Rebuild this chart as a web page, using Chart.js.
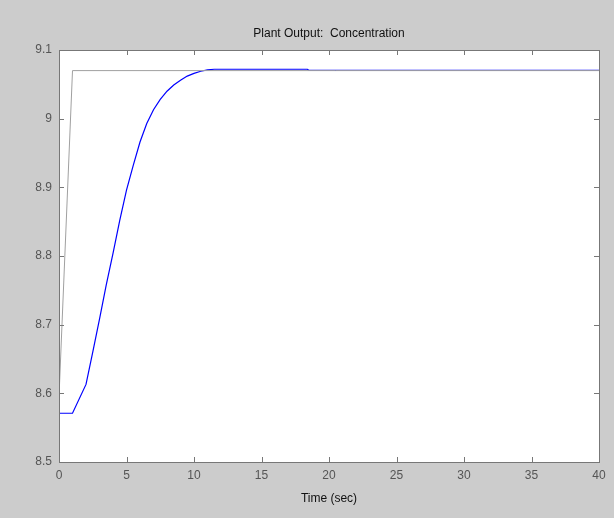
<!DOCTYPE html>
<html>
<head>
<meta charset="utf-8">
<script src="https://cdn.jsdelivr.net/npm/chart.js@4/dist/chart.umd.min.js"></script>
<style>
  html, body { margin: 0; padding: 0; background: #cccccc; }
  #wrap { width: 614px; height: 518px; }
</style>
</head>
<body>
<div id="wrap"><canvas id="c" width="614" height="518"></canvas></div>
<script>
// Planta: salida de concentracion
const tiempoSalida = [0, 1, 2, 2.5, 3, 3.5, 4, 4.5, 5, 5.5, 6, 6.5, 7, 7.5, 8, 8.5, 9, 9.5, 10, 10.5, 11, 11.5, 12, 18.4, 18.5, 40];
const valorSalida = [8.571, 8.571, 8.613, 8.660, 8.708, 8.758, 8.804, 8.852, 8.896, 8.932, 8.966, 8.993, 9.013, 9.028, 9.040, 9.049, 9.056, 9.062, 9.066, 9.069, 9.071, 9.072, 9.072, 9.072, 9.0705, 9.0705];

const tiempoReferencia = [0, 1, 40];
const valorReferencia = [8.595, 9.07, 9.07];

const ticksX = [0, 5, 10, 15, 20, 25, 30, 35, 40];
const ticksY = [8.5, 8.6, 8.7, 8.8, 8.9, 9.0, 9.1];

const toPoints = (xs, ys) => xs.map((x, i) => ({ x: x, y: ys[i] }));

const fuente = { family: '"Liberation Sans", Arial, Helvetica, sans-serif', size: 12 };

// fondo blanco del area, caja y marcas hacia adentro
const marcoMatlab = {
    id: 'marcoMatlab',
    beforeDatasetsDraw(chart) {
        const a = chart.chartArea;
        const ctx = chart.ctx;
        ctx.save();
        ctx.fillStyle = '#ffffff';
        ctx.fillRect(a.left, a.top, a.right - a.left, a.bottom - a.top);
        ctx.restore();
    },
    afterDatasetsDraw(chart) {
        const a = chart.chartArea;
        const ctx = chart.ctx;
        const sx = chart.scales.x;
        const sy = chart.scales.y;
        const largo = 5;
        ctx.save();
        ctx.strokeStyle = '#777777';
        ctx.lineWidth = 1;
        ctx.beginPath();
        ticksX.forEach(v => {
            const px = Math.round(sx.getPixelForValue(v)) + 0.5;
            ctx.moveTo(px, a.bottom);
            ctx.lineTo(px, a.bottom - largo);
            ctx.moveTo(px, a.top);
            ctx.lineTo(px, a.top + largo);
        });
        ticksY.forEach(v => {
            const py = Math.round(sy.getPixelForValue(v)) + 0.5;
            ctx.moveTo(a.left, py);
            ctx.lineTo(a.left + largo, py);
            ctx.moveTo(a.right, py);
            ctx.lineTo(a.right - largo, py);
        });
        ctx.stroke();
        ctx.strokeRect(Math.round(a.left) + 0.5, Math.round(a.top) + 0.5,
            Math.round(a.right - a.left), Math.round(a.bottom - a.top));
        ctx.restore();
    }
};

new Chart(document.getElementById('c'), {
    type: 'line',
    data: {
        datasets: [{
            label: 'Referencia',
            data: toPoints(tiempoReferencia, valorReferencia),
            borderColor: '#a0a0a0',
            borderWidth: 1,
            pointRadius: 0,
            tension: 0
        }, {
            label: 'Concentracion',
            data: toPoints(tiempoSalida, valorSalida),
            borderColor: '#0000ff',
            borderWidth: 1.2,
            pointRadius: 0,
            tension: 0
        }]
    },
    options: {
        responsive: false,
        animation: false,
        layout: { padding: { left: 0, right: 15, top: 0, bottom: 0 } },
        plugins: {
            legend: { display: false },
            tooltip: { enabled: false },
            title: {
                display: true,
                fullSize: false,
                text: 'Plant Output:  Concentration',
                color: '#111111',
                font: { ...fuente, weight: 'normal' },
                padding: { top: 26, bottom: 9.6 }
            }
        },
        scales: {
            x: {
                type: 'linear',
                min: 0,
                max: 40,
                afterFit: s => { s.height = 56; },
                afterBuildTicks: s => { s.ticks = ticksX.map(v => ({ value: v })); },
                grid: { display: false, drawTicks: false },
                border: { display: false },
                ticks: {
                    color: '#555555',
                    font: fuente,
                    padding: 6,
                    maxRotation: 0,
                    callback: v => String(v)
                },
                title: {
                    display: true,
                    text: 'Time (sec)',
                    color: '#111111',
                    font: fuente,
                    padding: { top: 0, bottom: 12 }
                }
            },
            y: {
                type: 'linear',
                min: 8.5,
                max: 9.1,
                afterFit: s => { s.width = 59; },
                afterBuildTicks: s => { s.ticks = ticksY.map(v => ({ value: v })); },
                grid: { display: false, drawTicks: false },
                border: { display: false },
                ticks: {
                    color: '#555555',
                    font: fuente,
                    padding: 7,
                    callback: v => String(Number(v.toFixed(1)))
                }
            }
        }
    },
    plugins: [marcoMatlab]
});
</script>
</body>
</html>
